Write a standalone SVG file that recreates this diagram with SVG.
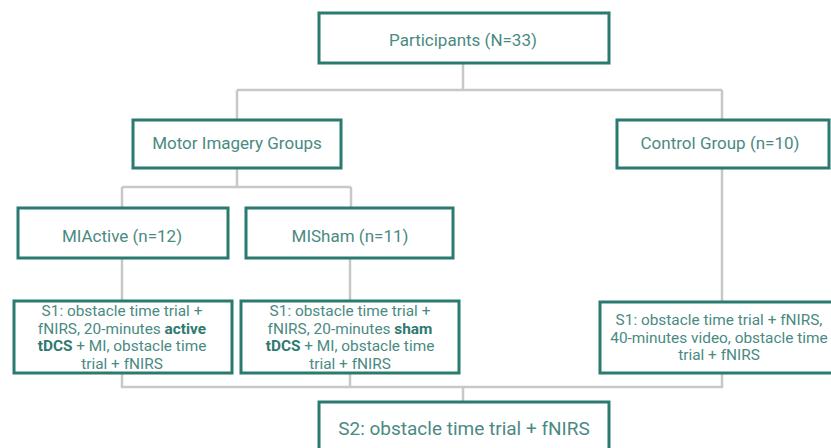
<svg xmlns="http://www.w3.org/2000/svg" width="831" height="448" viewBox="0 0 831 448">
<style>
.box{fill:#fff;stroke:#2b7a6f;stroke-width:3}
.t{font-family:Roboto,"Liberation Sans",sans-serif;font-size:15.4px;fill:#4a8a82;text-anchor:middle}
.l{font-size:17px}
.b{font-weight:bold;fill:#2f7a70}
.c{fill:none;stroke:#c8c8c8;stroke-width:2.5}
</style>
<rect width="831" height="448" fill="#fff"/>
<g id="connectors">
<path class="c" d="M463 63V90M237 90H722M237 90V120M722 90V120"/>
<path class="c" d="M237 168V187M122 187H351M122 187V208M351 187V208"/>
<path class="c" d="M122 258V300M350 258V300M722 168V302"/>
<path class="c" d="M122 373V387H722V373M350 373V387M463 387V402"/>
</g>
<g id="participants"><rect class="box" x="319" y="13" width="290" height="50"/><text class="t l" x="463" y="46">Participants (N=33)</text></g>
<g id="mig"><rect class="box" x="133" y="120" width="208" height="48"/><text class="t l" x="237" y="149">Motor Imagery Groups</text></g>
<g id="control"><rect class="box" x="617" y="120" width="212" height="48"/><text class="t l" x="720" y="149">Control Group (n=10)</text></g>
<g id="miactive"><rect class="box" x="18" y="208" width="210" height="50"/><text class="t l" x="122" y="242">MIActive (n=12)</text></g>
<g id="misham"><rect class="box" x="246" y="208" width="207" height="50"/><text class="t l" x="350" y="242">MISham (n=11)</text></g>
<g id="s1active"><rect class="box" x="14" y="301" width="218" height="72"/>
<text class="t" x="122" y="316">S1: obstacle time trial +</text>
<text class="t" x="122" y="334">fNIRS, 20-minutes <tspan class="b">active</tspan></text>
<text class="t" x="122" y="351"><tspan class="b">tDCS</tspan> + MI, obstacle time</text>
<text class="t" x="122" y="369">trial + fNIRS</text></g>
<g id="s1sham"><rect class="box" x="241" y="301" width="218" height="72"/>
<text class="t" x="350" y="316">S1: obstacle time trial +</text>
<text class="t" x="350" y="334">fNIRS, 20-minutes <tspan class="b">sham</tspan></text>
<text class="t" x="350" y="351"><tspan class="b">tDCS</tspan> + MI, obstacle time</text>
<text class="t" x="350" y="369">trial + fNIRS</text></g>
<g id="s1control"><rect class="box" x="600" y="302" width="234" height="71"/>
<text class="t" x="719" y="325">S1: obstacle time trial + fNIRS,</text>
<text class="t" x="719" y="343">40-minutes video, obstacle time</text>
<text class="t" x="719" y="360">trial + fNIRS</text></g>
<g id="s2"><rect class="box" x="319" y="402" width="290" height="50"/><text class="t" x="464" y="435" style="font-size:19px">S2: obstacle time trial + fNIRS</text></g>
</svg>
